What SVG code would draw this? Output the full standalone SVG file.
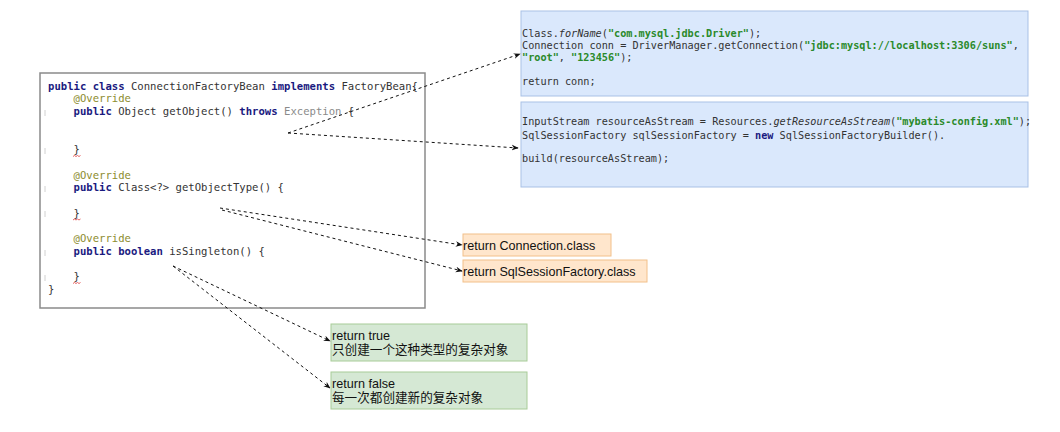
<svg xmlns="http://www.w3.org/2000/svg" width="1060" height="432" viewBox="0 0 1060 432">
<style>
.code{font-family:"DejaVu Sans Mono","Liberation Mono",monospace;font-size:10.6px;fill:#333}
.code2{font-family:"DejaVu Sans Mono","Liberation Mono",monospace;font-size:10.2px;fill:#333}
.kw{fill:#1a1a80;font-weight:bold}
.ann{fill:#8c8c2e}
.gray{fill:#8a8a8a}
.str{fill:#2a8a2a;font-weight:bold}
.it{font-style:italic}
.lbl{font-family:"Liberation Sans",Arial,"Noto Sans CJK SC",sans-serif;font-size:12.6px;fill:#111}
.blue{fill:#dae8fc;stroke:#a9c1e6;stroke-width:1}
.orange{fill:#ffe6cc;stroke:#f2c08a;stroke-width:1}
.green{fill:#d5e8d4;stroke:#a8cc98;stroke-width:1}
.conn{fill:none;stroke:#111;stroke-width:1;stroke-dasharray:3 3;marker-end:url(#ah)}
.tick{stroke:#d0d0d0;stroke-width:1}
.sq{fill:none;stroke:#e04040;stroke-width:0.8}
</style>
<defs>
<marker id="ah" viewBox="0 0 10 10" refX="9" refY="5" markerWidth="7" markerHeight="7" orient="auto" markerUnits="userSpaceOnUse">
<path d="M0,1 L10,5 L0,9 L3,5 Z" fill="#111"/>
</marker>
</defs>
<rect width="1060" height="432" fill="#fff"/>

<g id="code-box">
<rect x="40" y="73" width="385" height="235" fill="#fff" stroke="#8a8a8a" stroke-width="1.5"/>
<line class="tick" x1="45" y1="110" x2="45" y2="116"/>
<line class="tick" x1="45" y1="148" x2="45" y2="154"/>
<line class="tick" x1="45" y1="186" x2="45" y2="192"/>
<line class="tick" x1="45" y1="211" x2="45" y2="217"/>
<line class="tick" x1="45" y1="250" x2="45" y2="256"/>
<line class="tick" x1="45" y1="275" x2="45" y2="281"/>
<text class="code" x="48" y="89.5"><tspan class="kw">public class</tspan> ConnectionFactoryBean <tspan class="kw">implements</tspan> FactoryBean{</text>
<text class="code ann" x="73.5" y="102.2">@Override</text>
<text class="code" x="73.5" y="114.9"><tspan class="kw">public</tspan> Object getObject() <tspan class="kw">throws</tspan> <tspan class="gray">Exception</tspan> {</text>
<text class="code" x="73.5" y="153.1">}</text>
<path class="sq" d="M73,156.5 l1.5,-1 l1.5,1 l1.5,-1 l1.5,1 l1.5,-1"/>
<text class="code ann" x="73.5" y="178.5">@Override</text>
<text class="code" x="73.5" y="191.3"><tspan class="kw">public</tspan> Class&lt;?&gt; getObjectType() {</text>
<text class="code" x="73.5" y="216.7">}</text>
<path class="sq" d="M73,220 l1.5,-1 l1.5,1 l1.5,-1 l1.5,1 l1.5,-1"/>
<text class="code ann" x="73.5" y="242.1">@Override</text>
<text class="code" x="73.5" y="254.9"><tspan class="kw">public boolean</tspan> isSingleton() {</text>
<text class="code" x="73.5" y="280.3">}</text>
<path class="sq" d="M73,283.5 l1.5,-1 l1.5,1 l1.5,-1 l1.5,1 l1.5,-1"/>
<text class="code" x="48" y="293">}</text>
</g>

<g id="conn-box">
<rect class="blue" x="521" y="11" width="507" height="85"/>
<text class="code2" x="522" y="36.9">Class.<tspan class="it">forName</tspan>(<tspan class="str">"com.mysql.jdbc.Driver"</tspan>);</text>
<text class="code2" x="522" y="48.6">Connection conn = DriverManager.getConnection(<tspan class="str">"jdbc:mysql://localhost:3306/suns"</tspan>,</text>
<text class="code2" x="522" y="61.3"><tspan class="str">"root"</tspan>, <tspan class="str">"123456"</tspan>);</text>
<text class="code2" x="522" y="84.6">return conn;</text>
</g>

<g id="sqlsession-box">
<rect class="blue" x="521" y="102" width="507" height="85"/>
<text class="code2" x="522" y="125.3">InputStream resourceAsStream = Resources.<tspan class="it">getResourceAsStream</tspan>(<tspan class="str">"mybatis-config.xml"</tspan>);</text>
<text class="code2" x="522" y="138.6">SqlSessionFactory sqlSessionFactory = <tspan class="kw">new</tspan> SqlSessionFactoryBuilder().</text>
<text class="code2" x="522" y="161.9">build(resourceAsStream);</text>
</g>

<g id="conn-class">
<rect class="orange" x="463" y="234" width="148" height="22"/>
<text class="lbl" x="463" y="249.5">return Connection.class</text>
</g>

<g id="sqlsession-class">
<rect class="orange" x="463" y="260" width="184" height="22"/>
<text class="lbl" x="463" y="275.5">return SqlSessionFactory.class</text>
</g>

<g id="true-box">
<rect class="green" x="331" y="324" width="196" height="37"/>
<text class="lbl" x="332" y="339.5">return true</text>
<text class="lbl" x="332" y="353.5">只创建一个这种类型的复杂对象</text>
</g>

<g id="false-box">
<rect class="green" x="331" y="372" width="196" height="37"/>
<text class="lbl" x="332" y="387.5">return false</text>
<text class="lbl" x="332" y="401.5">每一次都创建新的复杂对象</text>
</g>

<g id="connectors">
<path class="conn" d="M288,133 L520,54"/>
<path class="conn" d="M288,133 L518,148"/>
<path class="conn" d="M220,208 L462,245"/>
<path class="conn" d="M222,210 L462,271"/>
<path class="conn" d="M173,266 L330,341"/>
<path class="conn" d="M173,266 L330,388"/>
</g>
</svg>
